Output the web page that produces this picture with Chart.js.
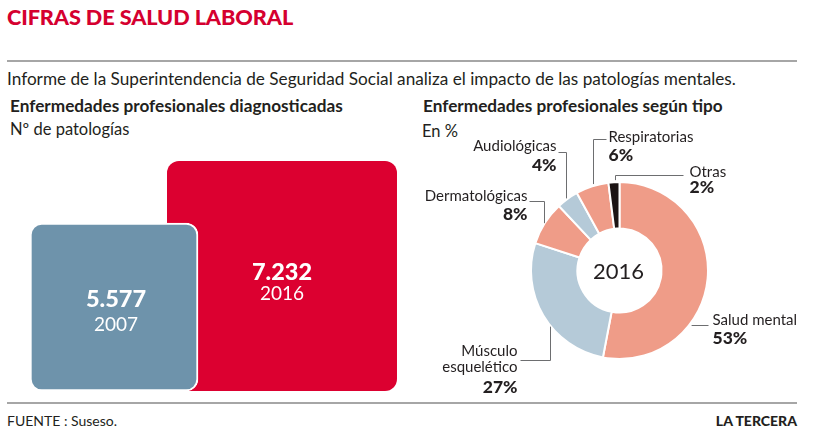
<!DOCTYPE html>
<html><head><meta charset="utf-8">
<script src="https://cdn.jsdelivr.net/npm/chart.js@4.4.1/dist/chart.umd.min.js"></script>
<style>
html,body{margin:0;padding:0;background:#fff;}
body{width:820px;height:434px;position:relative;overflow:hidden;font-family:Lato,"Open Sans",sans-serif;color:#231f20;}
.t{position:absolute;white-space:nowrap;}
#title{left:7px;top:4px;font-size:21.7px;font-weight:900;color:#d5002f;line-height:26px;letter-spacing:-0.1px;}
.rule{position:absolute;left:7px;width:790px;height:0;border-top:2px solid #a6a6a6;}
#sub{left:7px;top:68px;font-size:17.2px;line-height:22px;}
.h{font-size:17.2px;font-weight:700;line-height:20px;}
.u{font-size:16.5px;line-height:20px;}
#foot{left:7px;top:412px;font-size:14px;line-height:18px;}
#brand{right:23px;top:412px;font-size:14px;font-weight:900;line-height:18px;}
canvas{position:absolute;}
#barWrap{position:absolute;left:0;top:150px;width:410px;height:250px;}
#pieWrap{position:absolute;left:410px;top:120px;width:410px;height:290px;}
</style></head>
<body>
<div class="t" id="title">CIFRAS DE SALUD LABORAL</div>
<div class="rule" style="top:60px"></div>
<div class="t" id="sub">Informe de la Superintendencia de Seguridad Social analiza el impacto de las patologías mentales.</div>
<div class="t h" style="left:10px;top:96px">Enfermedades profesionales diagnosticadas</div>
<div class="t u" style="left:10px;top:119px">Nº de patologías</div>
<div class="t h" style="left:423px;top:96px">Enfermedades profesionales según tipo</div>
<div class="t u" style="left:422px;top:121px">En %</div>
<div id="barWrap"><canvas id="bar" width="410" height="250"></canvas></div>
<div id="pieWrap"><canvas id="pie" width="410" height="290"></canvas></div>
<div class="rule" style="top:402px"></div>
<div class="t" id="foot">FUENTE : Suseso.</div>
<div class="t" id="brand">LA TERCERA</div>
<script>
// ---- data ----
const barYears = ['2007', '2016'];
const barValues = [5577, 7232];
const barValueLabels = ['5.577', '7.232'];

const pieCategories = ['Salud mental', 'Músculo esquelético', 'Dermatológicas', 'Audiológicas', 'Respiratorias', 'Otras'];
const pieValues = [53, 27, 8, 4, 6, 2];
const pieCenterLabel = '2016';

// ---- bar chart (overlapping rounded squares) ----
const FONT = 'Lato, "Open Sans", sans-serif';
const Y_BASE = 1100;
const barLabels = {
  id: 'barLabels',
  afterDatasetsDraw(chart) {
    const ctx = chart.ctx;
    ctx.save();
    ctx.fillStyle = '#fff';
    ctx.textAlign = 'center';
    ctx.textBaseline = 'middle';
    chart.data.datasets.forEach((ds, di) => {
      const meta = chart.getDatasetMeta(di);
      meta.data.forEach((el, i) => {
        if (ds.data[i] == null) return;
        const cy = (el.y + el.base) / 2;
        const dy = i === 0 ? -8 : -4;
        ctx.font = '900 23.5px ' + FONT;
        ctx.fillText(barValueLabels[i], el.x + (i === 0 ? 2 : 0), cy + dy);
        ctx.font = '400 19px ' + FONT;
        ctx.fillText(barYears[i], el.x + (i === 0 ? 2 : 0), cy + 18);
      });
    });
    ctx.restore();
  }
};

new Chart(document.getElementById('bar'), {
  type: 'bar',
  data: {
    labels: barYears,
    datasets: [
      { data: [barValues[0], null], base: Y_BASE, backgroundColor: '#6e93ab', borderColor: '#ffffff', borderWidth: 2,
        borderRadius: 12, borderSkipped: false, categoryPercentage: 1, barPercentage: 1.0, clip: false },
      { data: [null, barValues[1]], base: Y_BASE, backgroundColor: '#dc0030', borderWidth: 0,
        borderRadius: 12, borderSkipped: false, categoryPercentage: 1, barPercentage: 1.369, clip: false }
    ]
  },
  options: {
    responsive: false, animation: false, events: [],
    layout: { padding: { left: 30, right: 44, top: 11, bottom: 9 } },
    datasets: { bar: { grouped: false } },
    scales: {
      x: { display: false },
      y: { display: false, min: Y_BASE, max: 7232 }
    },
    plugins: { legend: { display: false }, tooltip: { enabled: false } }
  },
  plugins: [barLabels]
});

// ---- doughnut ----
// leader geometry relative to centre (px)
const leaderLayout = [
  { kind: 'h', y: 54, toX: 89, align: 'left', tx: 93, rows: [50, 68] },                 // Salud mental
  { kind: 'vd', x: -70, toY: 89, toX: -99, align: 'right', tx: -102, rows: [81, 97, 117], split: true }, // Músculo
  { kind: 'v', x: -76, toY: -69.5, toX: -90, align: 'right', tx: -92, rows: [-74, -56] },  // Dermatológicas
  { kind: 'v', x: -54, toY: -119, toX: -61, align: 'right', tx: -63, rows: [-124, -105] }, // Audiológicas
  { kind: 'v', x: -26.5, toY: -132, toX: -13, align: 'left', tx: -11, rows: [-133, -115] }, // Respiratorias
  { kind: 'v', x: -5, toY: -96, toX: 64, align: 'left', tx: 70, rows: [-98, -83] }        // Otras
];

const pieLabels = {
  id: 'pieLabels',
  afterDraw(chart) {
    const ctx = chart.ctx;
    const arc = chart.getDatasetMeta(0).data[0];
    const cx = arc.x, cy = arc.y, R = arc.outerRadius;
    ctx.save();
    ctx.fillStyle = '#231f20';
    ctx.font = '400 22px ' + FONT;
    ctx.textAlign = 'center';
    ctx.textBaseline = 'middle';
    ctx.fillText(pieCenterLabel, cx - 1, cy + 1);
    ctx.strokeStyle = '#6d6e70';
    ctx.lineWidth = 1;
    leaderLayout.forEach((L, i) => {
      ctx.beginPath();
      if (L.kind === 'h') {
        const x0 = Math.sqrt(R * R - L.y * L.y);
        ctx.moveTo(cx + x0 + 2, Math.round(cy + L.y) + 0.5);
        ctx.lineTo(cx + L.toX, Math.round(cy + L.y) + 0.5);
      } else {
        const d = Math.sqrt(R * R - L.x * L.x);
        const y0 = L.kind === 'vd' ? d + 2 : -d - 2;
        const px = Math.round(cx + L.x) + 0.5;
        ctx.moveTo(px, cy + y0);
        ctx.lineTo(px, Math.round(cy + L.toY) + 0.5);
        ctx.lineTo(cx + L.toX, Math.round(cy + L.toY) + 0.5);
      }
      ctx.stroke();
      const lines = L.split ? pieCategories[i].split(' ') : [pieCategories[i]];
      ctx.textAlign = L.align;
      ctx.fillStyle = '#231f20';
      lines.forEach((s, k) => {
        ctx.font = '400 15px ' + FONT;
        ctx.fillText(s, cx + L.tx, cy + L.rows[k]);
      });
      ctx.font = '900 17.5px ' + FONT;
      ctx.fillText(pieValues[i] + '%', cx + L.tx, cy + L.rows[lines.length]);
    });
    ctx.restore();
  }
};

new Chart(document.getElementById('pie'), {
  type: 'doughnut',
  data: {
    labels: pieCategories,
    datasets: [{
      data: pieValues,
      backgroundColor: ['#ef9c88', '#b5cad8', '#ef9c88', '#b5cad8', '#ef9c88', '#1c1414'],
      borderColor: '#ffffff', borderWidth: 2
    }]
  },
  options: {
    responsive: false, animation: false, events: [],
    cutout: '47.5%',
    layout: { padding: { left: 120, right: 111, top: 61, bottom: 50 } },
    plugins: { legend: { display: false }, tooltip: { enabled: false } }
  },
  plugins: [pieLabels]
});
</script>
</body></html>
